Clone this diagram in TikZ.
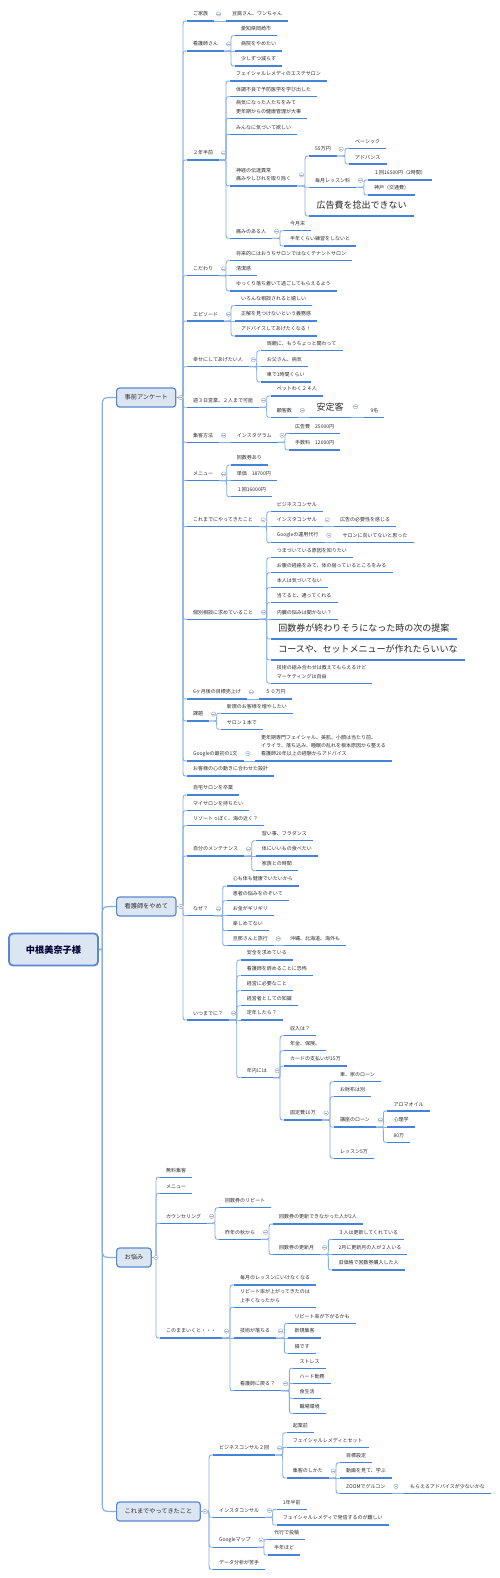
\documentclass[tikz,border=0pt]{standalone}
\usepackage{fontspec}
\newfontfamily\jp{Noto Sans CJK JP}
\definecolor{ulc}{RGB}{70,130,215}
\definecolor{cnc}{RGB}{135,175,230}
\definecolor{brf}{RGB}{220,230,243}
\definecolor{brd}{RGB}{90,135,210}
\definecolor{txc}{RGB}{45,45,45}
\definecolor{mkc}{RGB}{165,178,200}
\newcommand\cnx[2]{%
  \path (#1); \pgfgetlastxy{\zzax}{\zzay}%
  \path (#2); \pgfgetlastxy{\zzbx}{\zzby}%
  \pgfmathsetmacro\zzdy{\zzby-(\zzay)}%
  \pgfmathsetmacro\zzady{abs(\zzdy)}%
  \ifdim\zzady pt<0.8pt
    \draw[conn] (#1) -- (#2);
  \else
    \pgfmathsetmacro\zzsg{(\zzdy>0)*2-1}%
    \pgfmathsetmacro\zzk{min(7,\zzady/2)}%
    \pgfmathsetmacro\zzki{min(4,\zzady/2)}%
    \pgfmathsetmacro\zzxt{\zzbx-4}%
    \pgfmathsetmacro\zzxs{\zzbx-7}%
    \pgfmathsetmacro\zzya{\zzay+\zzsg*\zzki}%
    \pgfmathsetmacro\zzyb{\zzby-\zzsg*\zzk}%
    \draw[conn] (#1) -- (\zzxs pt,\zzay) .. controls (\zzxt pt,\zzay) .. (\zzxt pt,\zzya pt) -- (\zzxt pt,\zzyb pt) .. controls (\zzxt pt,\zzby) .. (#2);
  \fi}
\newcommand\cnxm[2]{%
  \path (#1); \pgfgetlastxy{\zzax}{\zzay}%
  \path (#2); \pgfgetlastxy{\zzbx}{\zzby}%
  \pgfmathsetmacro\zzdy{\zzby-(\zzay)}%
  \pgfmathsetmacro\zzsg{(\zzdy>0)*2-1}%
  \pgfmathsetmacro\zzxt{\zzbx-13.7}%
  \pgfmathsetmacro\zzyb{\zzby-\zzsg*9}%
  \draw[connm] (#1) -- (\zzxt pt,\zzay) -- (\zzxt pt,\zzyb pt) .. controls (\zzxt pt,\zzby) .. (#2);}
\newcommand\mkr[1]{%
  \draw[mkst] ([xshift=4.2pt]#1.east) circle (2.2pt);
  \draw[mkst] ([xshift=3pt]#1.east) -- ([xshift=5.4pt]#1.east);}
\begin{document}
\begin{tikzpicture}[x=1pt,y=-1pt,
  ul/.style={draw=ulc, line width=1.4pt},
  conn/.style={draw=cnc, line width=0.9pt},
  connm/.style={draw=cnc, line width=1.2pt},
  mkst/.style={draw=mkc, fill=white, line width=0.5pt},
  t/.style={anchor=south west, font=\fontsize{5}{8.3}\selectfont\jp, text=txc,
    inner xsep=6pt, inner ysep=4.5pt, align=left,
    append after command={(\tikzlastnode.south west) edge[ul] (\tikzlastnode.south east)}},
  tb/.style={t, font=\fontsize{9}{11}\selectfont\jp, inner xsep=7.5pt, inner ysep=6.3pt, text=black!85},
  br/.style={anchor=west, draw=brd, fill=brf, rounded corners=3pt, line width=1.2pt,
    font=\fontsize{6.2}{7}\selectfont\jp, inner xsep=8pt, minimum height=19pt, text=txc},
  mainbox/.style={draw=brd, fill=brf, rounded corners=4pt, line width=1.8pt,
    font=\fontsize{9.2}{11}\selectfont\jp\bfseries, minimum width=89pt, minimum height=32pt, text=black!80!blue},
]
\fill[white] (0,0) rectangle (499,1578);
\useasboundingbox (0,0) rectangle (499,1578);

\node[mainbox] (m) at (53.5,949.5) {中根美奈子様};
\node[br] (b1) at (116,397.5) {事前アンケート};
\node[br] (b2) at (116,906.5) {看護師をやめて};
\node[br] (b3) at (116,1257.5) {お悩み};
\node[br] (b4) at (116,1511.5) {これまでやってきたこと};

% ---- 事前アンケート
\node[t] (a1) at (187,21) {ご家族};
\node[t] (a1a) at (226,21) {豆腐さん、ワンちゃん};
\node[t] (a2) at (187,51) {看護師さん};
\node[t] (a2a) at (235,35.7) {愛知県岡崎市};
\node[t] (a2b) at (235,51) {病院をやめたい};
\node[t] (a2c) at (235,66) {少しずつ減らす};
\node[t] (a3) at (187,160) {２年半前};
\node[t] (a3a) at (230,81) {フェイシャルレメディのエステサロン};
\node[t] (a3b) at (230,96.7) {体調不良で予防医学を学び出した};
\node[t] (a3c) at (230,118.3) {病気になった人たちをみて\\更年期からの健康管理が大事};
\node[t] (a3d) at (230,134.3) {みんなに気づいて欲しい};
\node[t] (a3e) at (230,186) {神経の伝達異常\\痛みやしびれを取り除く};
\node[t] (a3f) at (230,238.3) {痛みのある人};
\node[t] (a3e1) at (309,156) {55万円};
\node[t] (a3e1a) at (349,148.3) {ベーシック};
\node[t] (a3e1b) at (349,164) {アドバンス};
\node[t] (a3e2) at (309,187.3) {毎月レッスン料};
\node[t] (a3e2a) at (368,180) {１回16500円（2時間）};
\node[t] (a3e2b) at (368,195) {神戸（交通費）};
\node[tb] (a3e3) at (309,216) {広告費を捻出できない};
\node[t] (a3f1) at (284,230.7) {今月末};
\node[t] (a3f2) at (284,246) {半年くらい練習をしないと};
\node[t] (a4) at (187,275.7) {こだわり};
\node[t] (a4a) at (230,260.7) {将来的にはおうちサロンではなくテナントサロン};
\node[t] (a4b) at (230,275.7) {清潔感};
\node[t] (a4c) at (230,291) {ゆっくり落ち着いて過ごしてもらえるよう};
\node[t] (a5) at (187,321) {エピソード};
\node[t] (a5a) at (235,305.7) {いろんな相談されると嬉しい};
\node[t] (a5b) at (235,321) {正解を見つけないという義務感};
\node[t] (a5c) at (235,336) {アドバイスしてあげたくなる！};
\node[t] (a6) at (187,366.7) {幸せにしてあげたい人};
\node[t] (a6a) at (260.7,350.7) {両親に、もうちょっと関わって};
\node[t] (a6b) at (260.7,366.7) {お父さん、病気};
\node[t] (a6c) at (260.7,382) {車で1時間くらい};
\node[t] (a7) at (187,407.3) {週３日営業、２人まで可能};
\node[t] (a7a) at (270.7,396) {ペットわく２４人};
\node[t] (a7b) at (270.7,417.3) {顧客数};
\node[tb] (a7b1) at (309,417.3) {安定客};
\node[t] (a7b1a) at (364.3,417.3) {9名};
\node[t] (a8) at (187,442.3) {集客方法};
\node[t] (a8a) at (230.7,442.3) {インスタグラム};
\node[t] (a8a1) at (289,433.3) {広告費　25000円};
\node[t] (a8a2) at (289,450) {手数料　12000円};
\node[t] (a9) at (187,480.7) {メニュー};
\node[t] (a9a) at (230.7,465) {回数券あり};
\node[t] (a9b) at (230.7,480.7) {単価　18700円};
\node[t] (a9c) at (230.7,496.7) {１回16000円};
\node[t] (a10) at (187,526.7) {これまでにやってきたこと};
\node[t] (a10a) at (270.7,511.7) {ビジネスコンサル};
\node[t] (a10b) at (270.7,526.7) {インスタコンサル};
\node[t] (a10b1) at (334,526.7) {広告の必要性を感じる};
\node[t] (a10c) at (270.7,542.7) {Googleの運用代行};
\node[t] (a10c1) at (336.3,542.7) {サロンに向いてないと思った};
\node[t] (a11) at (187,619.3) {個別相談に求めていること};
\node[t] (a11a) at (270.7,557.7) {つまづいている原因を知りたい};
\node[t] (a11b) at (270.7,572.7) {お腹の経絡をみて、体の弱っているところをみる};
\node[t] (a11c) at (270.7,587.7) {本人は気づいてない};
\node[t] (a11d) at (270.7,602.7) {当てると、通ってくれる};
\node[t] (a11e) at (270.7,619.3) {内臓の悩みは聞かない？};
\node[tb] (a11f) at (270.7,639) {回数券が終わりそうになった時の次の提案};
\node[tb] (a11g) at (270.7,660) {コースや、セットメニューが作れたらいいな};
\node[t] (a11h) at (270.7,683.3) {技術の組み合わせは教えてもらえるけど\\マーケティングは自由};
\node[t] (a12) at (187,699) {6ヶ月後の目標売上げ};
\node[t] (a12a) at (259.3,699) {５０万円};
\node[t] (a13) at (187,721) {課題};
\node[t] (a13a) at (220.7,713.3) {新規のお客様を増やしたい};
\node[t] (a13b) at (220.7,729.3) {サロン１本で};
\node[t] (a14) at (187,761) {Googleの最初の1文};
\node[t] (a14a) at (255,761) {更年期専門フェイシャル、美肌、小顔は当たり前、\\イライラ、落ち込み、睡眠の乱れを根本原因から整える\\看護師20年以上の経験からアドバイス};
\node[t] (a15) at (187,776) {お客様の心の動きに合わせた設計};

% ---- 看護師をやめて
\node[t] (c1) at (187,795) {自宅サロンを卒業};
\node[t] (c2) at (187,810.7) {マイサロンを持ちたい};
\node[t] (c3) at (187,825.7) {リゾートっぽく、海の近く？};
\node[t] (c4) at (187,856) {自分のメンテナンス};
\node[t] (c4a) at (255.7,840.7) {習い事、フラダンス};
\node[t] (c4b) at (255.7,856) {体にいいもの食べたい};
\node[t] (c4c) at (255.7,870.7) {家族との時間};
\node[t] (c5) at (187,915.7) {なぜ？};
\node[t] (c5a) at (226.7,886) {心も体も健康でいたいから};
\node[t] (c5b) at (226.7,900.7) {患者の悩みをのぞいて};
\node[t] (c5c) at (226.7,915.7) {お金がギリギリ};
\node[t] (c5d) at (226.7,930.7) {楽しめてない};
\node[t] (c5e) at (226.7,945.7) {旦那さんと旅行};
\node[t] (c5e1) at (284,945.7) {沖縄、北海道、海外も};
\node[t] (c6) at (187,1020) {いつまでに？};
\node[t] (c6a) at (240.7,960) {安全を求めている};
\node[t] (c6b) at (240.7,975.7) {看護師を辞めることに恐怖};
\node[t] (c6c) at (240.7,990.7) {経営に必要なこと};
\node[t] (c6d) at (240.7,1005.7) {経営者としての知識};
\node[t] (c6e) at (240.7,1020) {定年したら？};
\node[t] (c6f) at (240.7,1077.7) {年内には};
\node[t] (c6f1) at (284,1035.7) {収入は？};
\node[t] (c6f2) at (284,1050.7) {年金、保険。};
\node[t] (c6f3) at (284,1066) {カードの支払いが15万};
\node[t] (c6f4) at (284,1120) {固定費10万};
\node[t] (g1) at (334,1081.7) {車、家のローン};
\node[t] (g2) at (334,1096.7) {お財布は別};
\node[t] (g3) at (334,1127) {講座のローン};
\node[t] (g4) at (334,1158.3) {レッスン5万};
\node[t] (g3a) at (387.3,1111) {アロマオイル};
\node[t] (g3b) at (387.3,1127) {心理学};
\node[t] (g3c) at (387.3,1142.3) {80万};

% ---- お悩み
\node[t] (d1) at (160,1177.3) {無料集客};
\node[t] (d2) at (160,1193.3) {メニュー};
\node[t] (d3) at (160,1223.3) {カウンセリング};
\node[t] (d3a) at (219,1207.7) {回数券のリピート};
\node[t] (d3b) at (219,1239.3) {昨年の秋から};
\node[t] (d3b1) at (273,1224) {回数券の更新できなかった人が2人};
\node[t] (d3b2) at (273,1254.5) {回数券の更新月};
\node[t] (h1) at (332.3,1239.3) {３人は更新してくれている};
\node[t] (h2) at (332.3,1254.5) {2月に更新月の人が２人いる};
\node[t] (h3) at (332.3,1270) {旧価格で回数券購入した人};
\node[t] (d4) at (160,1338) {このままいくと・・・};
\node[t] (d4a) at (234,1285) {毎月のレッスンにいけなくなる};
\node[t] (d4b) at (234,1307.3) {リピート率が上がってきたのは\\上手くなったから};
\node[t] (d4c) at (234,1338) {技術が落ちる};
\node[t] (d4d) at (234,1390.7) {看護師に戻る？};
\node[t] (d4c1) at (288.3,1323.3) {リピート率が下がるかも};
\node[t] (d4c2) at (288.3,1338) {新規集客};
\node[t] (d4c3) at (288.3,1353.3) {損です};
\node[t] (d4d1) at (293.3,1368.3) {ストレス};
\node[t] (d4d2) at (293.3,1383.3) {ハード勤務};
\node[t] (d4d3) at (293.3,1398.3) {食生活};
\node[t] (d4d4) at (293.3,1413.3) {職場環境};

% ---- これまでやってきたこと
\node[t] (e1) at (213,1455) {ビジネスコンサル２回};
\node[t] (e1a) at (286.7,1432.7) {起業前};
\node[t] (e1b) at (286.7,1447.3) {フェイシャルレメディとセット};
\node[t] (e1c) at (286.7,1478) {集客のしかた};
\node[t] (e1c1) at (340,1462.7) {目標設定};
\node[t] (e1c2) at (340,1478) {動画を見て、学ぶ};
\node[t] (e1c3) at (340,1493.3) {ZOOMでグルコン};
\node[t] (e1c3a) at (404,1493.3) {もらえるアドバイスが少ないかな};
\node[t] (e2) at (213,1517.3) {インスタコンサル};
\node[t] (e2a) at (276.7,1509.3) {1年半前};
\node[t] (e2b) at (276.7,1525) {フェイシャルレメディで発信するのが難しい};
\node[t] (e3) at (213,1547.3) {Googleマップ};
\node[t] (e3a) at (268,1539.3) {代行で投稿};
\node[t] (e3b) at (268,1555) {半年ほど};
\node[t] (e4) at (213,1569.3) {データ分析が苦手};

% ---- connectors
\foreach \ch in {b1,b2,b3,b4} {\cnxm{m.east}{\ch.west}}
\foreach \ch in {a1,a2,a3,a4,a5,a6,a7,a8,a9,a10,a11,a12,a13,a14,a15} {\cnx{b1.east}{\ch.south west}}
\foreach \ch in {c1,c2,c3,c4,c5,c6} {\cnx{b2.east}{\ch.south west}}
\foreach \ch in {d1,d2,d3,d4} {\cnx{b3.east}{\ch.south west}}
\foreach \ch in {e1,e2,e3,e4} {\cnx{b4.east}{\ch.south west}}
\foreach \pa/\ch in {a1/a1a,a2/a2a,a2/a2b,a2/a2c,a3/a3a,a3/a3b,a3/a3c,a3/a3d,a3/a3e,a3/a3f,
  a3e/a3e1,a3e/a3e2,a3e/a3e3,a3e1/a3e1a,a3e1/a3e1b,a3e2/a3e2a,a3e2/a3e2b,a3f/a3f1,a3f/a3f2,
  a4/a4a,a4/a4b,a4/a4c,a5/a5a,a5/a5b,a5/a5c,a6/a6a,a6/a6b,a6/a6c,a7/a7a,a7/a7b,a7b/a7b1,a7b1/a7b1a,
  a8/a8a,a8a/a8a1,a8a/a8a2,a9/a9a,a9/a9b,a9/a9c,a10/a10a,a10/a10b,a10/a10c,a10b/a10b1,a10c/a10c1,
  a11/a11a,a11/a11b,a11/a11c,a11/a11d,a11/a11e,a11/a11f,a11/a11g,a11/a11h,a12/a12a,a13/a13a,a13/a13b,a14/a14a,
  c4/c4a,c4/c4b,c4/c4c,c5/c5a,c5/c5b,c5/c5c,c5/c5d,c5/c5e,c5e/c5e1,
  c6/c6a,c6/c6b,c6/c6c,c6/c6d,c6/c6e,c6/c6f,c6f/c6f1,c6f/c6f2,c6f/c6f3,c6f/c6f4,
  c6f4/g1,c6f4/g2,c6f4/g3,c6f4/g4,g3/g3a,g3/g3b,g3/g3c,
  d3/d3a,d3/d3b,d3b/d3b1,d3b/d3b2,d3b2/h1,d3b2/h2,d3b2/h3,
  d4/d4a,d4/d4b,d4/d4c,d4/d4d,d4c/d4c1,d4c/d4c2,d4c/d4c3,d4d/d4d1,d4d/d4d2,d4d/d4d3,d4d/d4d4,
  e1/e1a,e1/e1b,e1/e1c,e1c/e1c1,e1c/e1c2,e1c/e1c3,e1c3/e1c3a,e2/e2a,e2/e2b,e3/e3a,e3/e3b}
  {\cnx{\pa.south east}{\ch.south west}}

% ---- collapse markers
\foreach \pa in {b1,b2,b3,b4,a1,a2,a3,a3e,a3e1,a3e2,a3f,a4,a5,a6,a7,a7b,a7b1,a8,a8a,a9,a10,a10b,a10c,
  a11,a12,a13,a14,c4,c5,c5e,c6,c6f,c6f4,g3,d3,d3b,d3b2,d4,d4c,d4d,e1,e1c,e1c3,e2,e3} {\mkr{\pa}}
\end{tikzpicture}
\end{document}
